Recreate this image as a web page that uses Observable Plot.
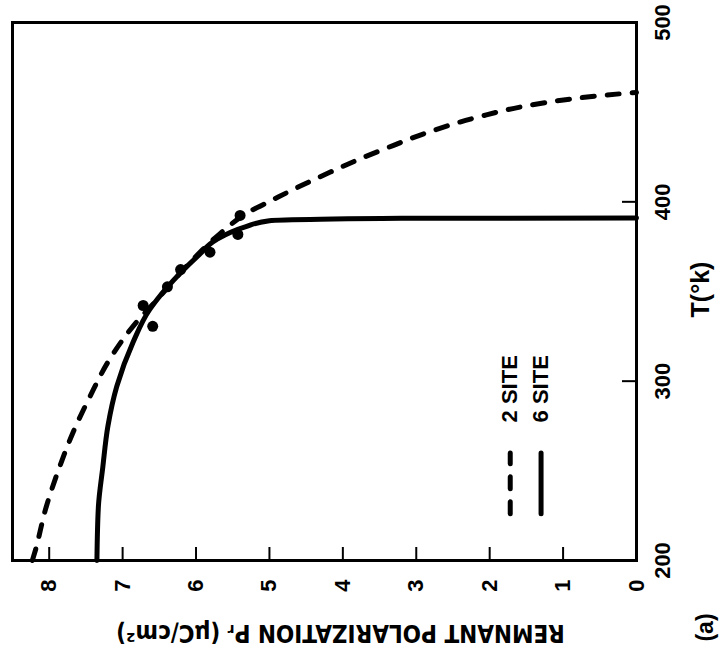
<!DOCTYPE html>
<html>
<head>
<meta charset="utf-8">
<script src="https://cdn.jsdelivr.net/npm/d3@7"></script>
<script src="https://cdn.jsdelivr.net/npm/@observablehq/plot@0.6"></script>
<style>
  html, body { margin: 0; padding: 0; background: #fff; overflow: hidden; }
  #wrap { position: relative; width: 723px; height: 654px; overflow: hidden; background: #fff; }
  #wrap svg { position: absolute; left: 0; top: 0; overflow: visible; transform-origin: 0 0; transform: translate(0px, 654px) rotate(-90deg); }
</style>
</head>
<body>
<div id="wrap"></div>
<script>
// Temperature (K) and remnant polarization (µC/cm²)
const twoSiteT  = [200, 204, 230, 252, 271, 291, 312, 333, 345.5, 368, 382, 394.6, 400.4, 408.8, 416.6, 423.9, 429.2, 439.2, 447.6, 453.2, 457.1, 459.6, 461];
const twoSitePr = [8.23, 8.20, 8.04, 7.86, 7.68, 7.45, 7.18, 6.81, 6.53, 6.04, 5.68, 5.27, 4.99, 4.58, 4.17, 3.77, 3.45, 2.81, 2.13, 1.54, 0.94, 0.40, 0];

const sixSiteT  = [200, 230, 252, 275, 297, 321.5, 340, 345.5, 360, 370, 379, 386, 389.5, 390.3, 390.8, 391];
const sixSitePr = [7.35, 7.33, 7.27, 7.20, 7.08, 6.86, 6.63, 6.53, 6.22, 5.97, 5.72, 5.33, 5.0, 4.3, 3.2, 0];

const measuredT  = [330.6, 342.2, 352.6, 362.2, 371.9, 381.8, 392.4];
const measuredPr = [6.59, 6.72, 6.39, 6.21, 5.81, 5.43, 5.40];

const tTicks  = [200, 300, 400, 500];
const prTicks = [0, 1, 2, 3, 4, 5, 6, 7, 8];

const legendNames = ["2 SITE", "6 SITE"];
const legendPr    = [1.72, 1.30];
const legendT     = [226, 260, 277];

const xLabel = "T(°k)";
const yLabel = "REMNANT POLARIZATION Pᵣ (μC/cm²)";
const panelLabel = "(a)";

const twoSite  = twoSiteT.map((t, i) => ({T: t, Pr: twoSitePr[i]}));
const sixSite  = sixSiteT.map((t, i) => ({T: t, Pr: sixSitePr[i]}));
const measured = measuredT.map((t, i) => ({T: t, Pr: measuredPr[i]}));
const legDash  = [{T: legendT[0], Pr: legendPr[0]}, {T: legendT[1], Pr: legendPr[0]}];
const legSolid = [{T: legendT[0], Pr: legendPr[1]}, {T: legendT[1], Pr: legendPr[1]}];
const legText  = legendNames.map((n, i) => ({T: legendT[2], Pr: legendPr[i], name: n}));

const chart = Plot.plot({
  width: 654,
  height: 723,
  marginLeft: 93,
  marginRight: 23,
  marginTop: 12,
  marginBottom: 87,
  style: {fontFamily: "Liberation Sans, Arial, sans-serif", fontWeight: "bold", fontSize: "22px", background: "#fff", color: "#000", overflow: "visible"},
  x: {domain: [200, 500]},
  y: {domain: [0, 8.5]},
  marks: [
    Plot.axisX({ticks: tTicks, tickSize: -14, tickPadding: 32, strokeWidth: 2, label: null, fontSize: 22}),
    Plot.axisY({ticks: prTicks, tickSize: -14, tickPadding: 33, strokeWidth: 2, label: null, fontSize: 22}),
    Plot.frame({stroke: "#000", strokeWidth: 3}),
    Plot.line(twoSite, {x: "T", y: "Pr", stroke: "#000", strokeWidth: 5, strokeDasharray: "12,13", strokeLinecap: "round", curve: "monotone-x"}),
    Plot.line(sixSite, {x: "T", y: "Pr", stroke: "#000", strokeWidth: 5, strokeLinejoin: "round", curve: "monotone-x"}),
    Plot.dot(measured, {x: "T", y: "Pr", r: 5.5, fill: "#000", stroke: "none"}),
    Plot.line(legDash, {x: "T", y: "Pr", stroke: "#000", strokeWidth: 5, strokeDasharray: "12,13", strokeLinecap: "round"}),
    Plot.line(legSolid, {x: "T", y: "Pr", stroke: "#000", strokeWidth: 5}),
    Plot.text(legText, {x: "T", y: "Pr", text: "name", textAnchor: "start", lineAnchor: "middle", fontSize: 22, fontWeight: "bold"}),
    Plot.text([xLabel], {frameAnchor: "bottom", textAnchor: "middle", lineAnchor: "middle", dx: 2, dy: 64, fontSize: 25, fontWeight: "bold"}),
    Plot.text([panelLabel], {frameAnchor: "bottom-left", textAnchor: "middle", lineAnchor: "middle", dx: -67, dy: 69, fontSize: 23, fontWeight: "bold"}),
    Plot.text([yLabel], {frameAnchor: "left", textAnchor: "middle", lineAnchor: "middle", rotate: -90, dx: -72, dy: 16, fontSize: 24, fontWeight: "bold",
      fontFamily: "Liberation Sans Narrow, DejaVu Sans Condensed, sans-serif"})
  ]
});
document.getElementById("wrap").appendChild(chart);
</script>
</body>
</html>
